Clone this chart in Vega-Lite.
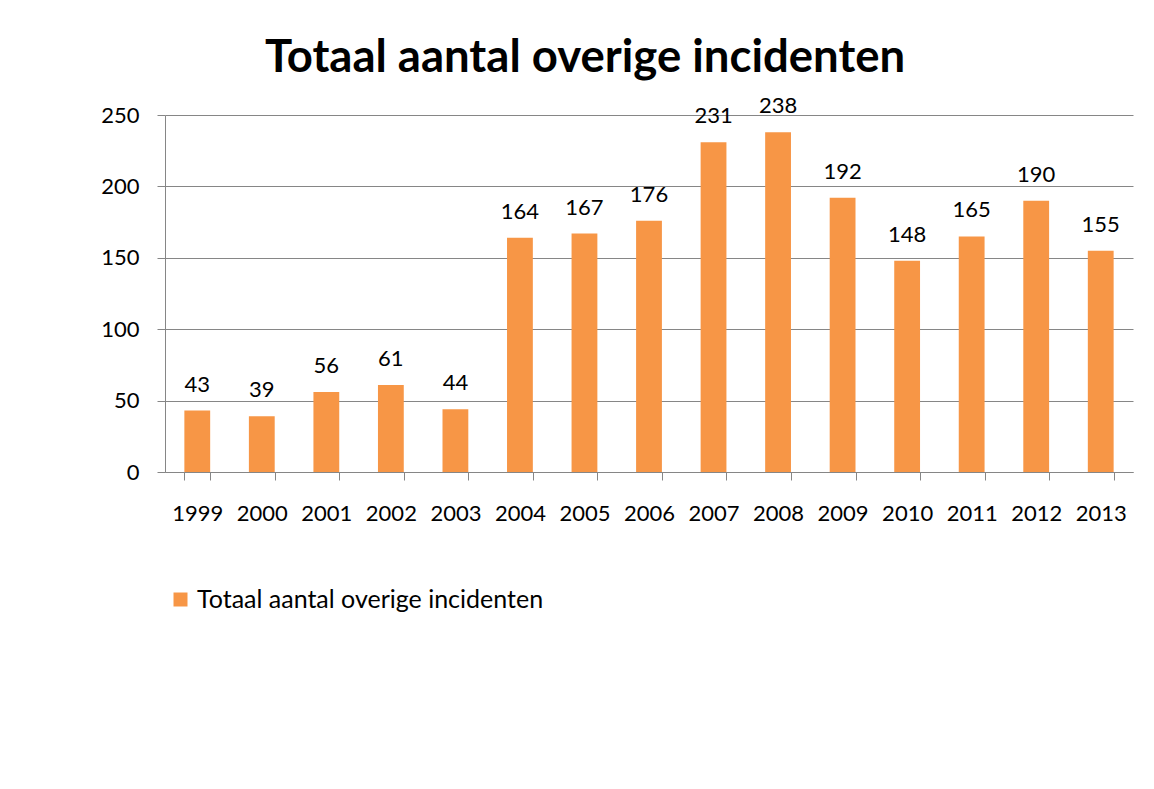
{
  "$schema": "https://vega.github.io/schema/vega-lite/v6.json",
  "width": 968,
  "height": 357,
  "autosize": {"type": "none"},
  "padding": {"left": 165, "top": 115, "right": 21, "bottom": 317},
  "background": "white",
  "title": {
    "text": "Totaal aantal overige incidenten",
    "font": "Lato",
    "fontSize": 45.5,
    "fontWeight": "bold",
    "color": "black",
    "anchor": "middle",
    "dx": -64,
    "offset": 14
  },
  "data": {
    "values": [
      {"jaar": "1999", "aantal": 43, "reeks": "Totaal aantal overige incidenten"},
      {"jaar": "2000", "aantal": 39, "reeks": "Totaal aantal overige incidenten"},
      {"jaar": "2001", "aantal": 56, "reeks": "Totaal aantal overige incidenten"},
      {"jaar": "2002", "aantal": 61, "reeks": "Totaal aantal overige incidenten"},
      {"jaar": "2003", "aantal": 44, "reeks": "Totaal aantal overige incidenten"},
      {"jaar": "2004", "aantal": 164, "reeks": "Totaal aantal overige incidenten"},
      {"jaar": "2005", "aantal": 167, "reeks": "Totaal aantal overige incidenten"},
      {"jaar": "2006", "aantal": 176, "reeks": "Totaal aantal overige incidenten"},
      {"jaar": "2007", "aantal": 231, "reeks": "Totaal aantal overige incidenten"},
      {"jaar": "2008", "aantal": 238, "reeks": "Totaal aantal overige incidenten"},
      {"jaar": "2009", "aantal": 192, "reeks": "Totaal aantal overige incidenten"},
      {"jaar": "2010", "aantal": 148, "reeks": "Totaal aantal overige incidenten"},
      {"jaar": "2011", "aantal": 165, "reeks": "Totaal aantal overige incidenten"},
      {"jaar": "2012", "aantal": 190, "reeks": "Totaal aantal overige incidenten"},
      {"jaar": "2013", "aantal": 155, "reeks": "Totaal aantal overige incidenten"}
    ]
  },
  "encoding": {
    "x": {
      "field": "jaar",
      "type": "ordinal",
      "scale": {"paddingInner": 0.6, "paddingOuter": 0.3},
      "axis": {
        "title": null,
        "labelAngle": 0,
        "labelFont": "Lato",
        "labelFontSize": 22,
        "labelColor": "black",
        "labelPadding": 23,
        "tickBand": "extent",
        "tickSize": 8,
        "tickColor": "#868686",
        "domainColor": "#868686",
        "grid": false
      }
    },
    "y": {
      "field": "aantal",
      "type": "quantitative",
      "scale": {"domain": [0, 250]},
      "axis": {
        "title": null,
        "values": [0, 50, 100, 150, 200, 250],
        "labelFont": "Lato",
        "labelFontSize": 22,
        "labelColor": "black",
        "labelPadding": 18,
        "tickSize": 8,
        "tickColor": "#868686",
        "domainColor": "#868686",
        "gridColor": "#868686",
        "grid": true
      }
    }
  },
  "layer": [
    {
      "mark": {"type": "bar"},
      "encoding": {
        "color": {
          "field": "reeks",
          "type": "nominal",
          "scale": {"range": ["#F79646"]},
          "legend": {
            "title": null,
            "orient": "none",
            "legendX": 3,
            "legendY": 472,
            "symbolType": "square",
            "symbolSize": 196,
            "symbolStrokeWidth": 0,
            "symbolOpacity": 1,
            "labelFont": "Lato",
            "labelFontSize": 25,
            "labelColor": "black",
            "labelOffset": 4,
            "labelLimit": 0
          }
        }
      }
    },
    {
      "mark": {
        "type": "text",
        "font": "Lato",
        "fontSize": 22,
        "color": "black",
        "baseline": "alphabetic",
        "dy": -19
      },
      "encoding": {"text": {"field": "aantal", "type": "quantitative"}}
    }
  ],
  "config": {"view": {"stroke": null}}
}
